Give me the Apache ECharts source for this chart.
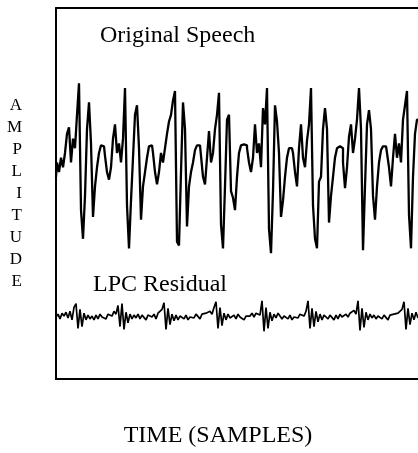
<!DOCTYPE html>
<html>
<head>
<meta charset="utf-8">
<script src="https://cdn.jsdelivr.net/npm/echarts@6/dist/echarts.min.js"></script>
<style>
  html, body { margin: 0; padding: 0; background: #fff; }
  #chart { width: 418px; height: 453px; }
</style>
</head>
<body>
<div id="chart"></div>
<script>
// amplitude of the original speech, one sample per time step
var speech = [
  -10, 5, -5, 10, 0, 15, 35, 42, 5, 30, 20, 55, 88,
  -45, -75, -30, 40, 68, 25, -52, -20, 0, 15, 23, 22, 12, -5, -13, 0, 30, 45, 15, 25, 5, 30, 83,
  -40, -85, -35, 10, 55, 65, 20, -55, -20, -5, 10, 22, 23, 15, -5, -18, -5, 15, 5, 20, 35, 48, 55, 70, 80,
  -78, -82, -5, 68, 40, -62, -20, -5, 5, 18, 23, 23, 12, -10, -18, 10, 38, 5, 15, 40, 55, 78,
  -60, -85, -20, 50, 55, -25, -32, -45, -10, 15, 23, 24, 23, 20, 5, -5, 10, 45, 15, 25, 0, 62, 45, 83,
  -65, -90, -25, 65, 48, 15, -52, -35, -10, 10, 20, 20, 15, -5, -20, 20, 45, 10, 0, 28, 45, 83,
  -40, -75, -85, -15, -10, 40, 62, 40, -58, -30, -10, 10, 20, 22, 20, 5, -22, 0, 32, 45, 15, 30, 50, 83,
  40, -87, -20, 45, 60, 40, -30, -55, -20, 5, 18, 22, 22, 15, 0, -20, 10, 35, 10, 25, 5, 50, 65, 80,
  -50, -85, -10, 35, 50
];

// LPC residual, same time steps
var residual = [
  0, 3, -2, 4, 1, 5, -1, 6, -3, 10, 14, -12, 8, -10, 4, -3, 2, -2, 1, -3, 2, -2, 3, 0, 2, -2, 3, 4, 1, 6, 3,
  12, -10, 14, -13, 5, -6, 3, -2, 2, -1, 3, -2, 2, 0, -3, 2, 4, 0, 3, -2, 4, 2, 8,
  15, -13, 9, -8, 3, -4, 2, -3, 1, 3, -2, 2, -3, 0, 2, -1, 3, 1, -2, 3, 1, 4, 2, 6, 3, 10,
  16, -12, 10, -9, 4, -3, 3, -1, -3, 2, -2, 3, 0, 2, -3, 1, 3, 1, 4, 0, 4, 6, 2,
  17, -15, 10, -12, 5, -4, 3, -1, 4, 1, -2, 1, 3, -2, 2, -3, 0, 2, -1, 3, 4, 1, 6,
  17, -12, 9, -10, 6, -5, 3, -3, 2, 0, -2, 2, 0, -3, 2, -2, 3, 0, 2, 3, 0, 4, 2, 7, 3,
  17, -14, 9, -11, 5, -3, 3, -1, 2, -2, 1, 3, -2, 2, 0, -3, 2, 0, 3, 1, 4, 2, 8,
  16, -13, 9, -8, 4, -3, 5, -1
];

var labels = ['Original Speech', 'LPC Residual'];
var xTitle = 'TIME (SAMPLES)';
var yTitle = 'AMPLITUDE';

var serif = '"Liberation Serif", "DejaVu Serif", serif';
var chart = echarts.init(document.getElementById('chart'));

var frameLine = { show: true, onZero: false, lineStyle: { color: '#000', width: 2 } };

chart.setOption({
  backgroundColor: '#fff',
  animation: false,
  grid: { left: 56, right: 0, top: 8, bottom: 56 },
  xAxis: [{
    type: 'value',
    min: 0,
    max: 181,
    position: 'bottom',
    name: xTitle,
    nameLocation: 'middle',
    nameGap: 45,
    nameTextStyle: { fontFamily: serif, fontSize: 24, color: '#000', padding: [0, 38, 0, 0] },
    axisLine: frameLine,
    axisTick: { show: false },
    axisLabel: { show: false },
    splitLine: { show: false }
  }, {
    type: 'value',
    min: 0,
    max: 181,
    position: 'top',
    axisLine: frameLine,
    axisTick: { show: false },
    axisLabel: { show: false },
    splitLine: { show: false }
  }],
  yAxis: [{
    type: 'value',
    min: -222,
    max: 167,
    position: 'left',
    name: yTitle.split('').join('\n'),
    nameLocation: 'middle',
    nameRotate: 0,
    nameGap: 34,
    nameTextStyle: { fontFamily: serif, fontSize: 17, color: '#000', lineHeight: 22, padding: [0, 0, 10, 0] },
    axisLine: frameLine,
    axisTick: { show: false },
    axisLabel: { show: false },
    splitLine: { show: false }
  }, {
    type: 'value',
    min: -65,
    max: 324,
    show: false
  }],
  graphic: [{
    type: 'text',
    left: 100,
    top: 24,
    style: { text: labels[0], font: '24px ' + serif, fill: '#000' }
  }, {
    type: 'text',
    left: 93,
    top: 273,
    style: { text: labels[1], font: '24px ' + serif, fill: '#000' }
  }],
  series: [{
    type: 'line',
    xAxisIndex: 0,
    yAxisIndex: 0,
    data: speech.map(function (v, i) { return [i, v]; }),
    showSymbol: false,
    step: 'middle',
    lineStyle: { color: '#000', width: 2.3 }
  }, {
    type: 'line',
    xAxisIndex: 0,
    yAxisIndex: 1,
    data: residual.map(function (v, i) { return [i, v]; }),
    showSymbol: false,
    lineStyle: { color: '#000', width: 1.7 }
  }]
});
</script>
</body>
</html>
